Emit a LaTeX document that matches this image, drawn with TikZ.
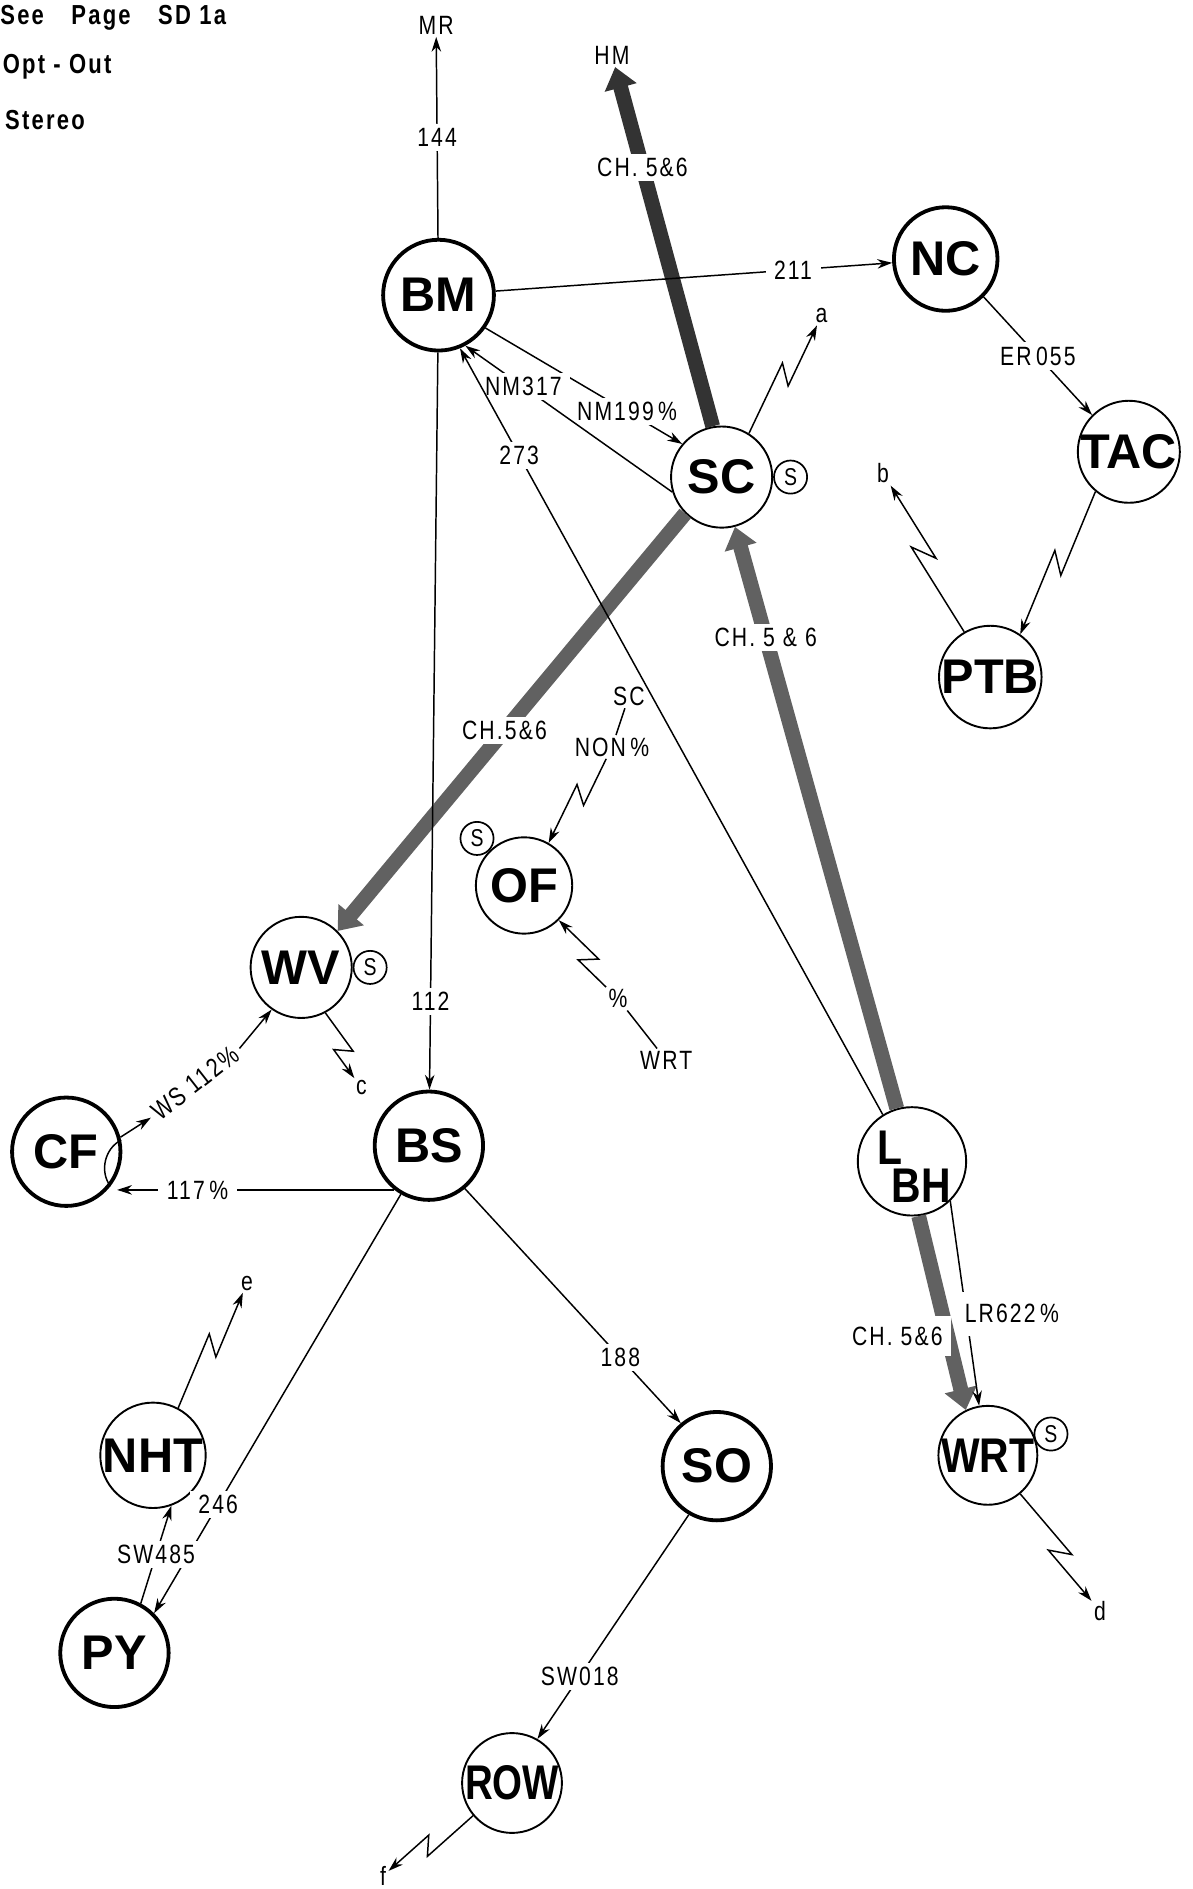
\documentclass[tikz,border=0pt]{standalone}
\usepackage{fontspec}
\setmainfont{Liberation Sans}
\newfontfamily\stnfont{Liberation Sans}
\newfontfamily\stnnarrow{Liberation Sans}[FakeStretch=0.84]
\newfontfamily\stnslim{Liberation Sans}[FakeStretch=0.79]
\newfontfamily\lblfont{Liberation Sans}[FakeStretch=0.8, LetterSpace=8]
\usetikzlibrary{calc}
\usetikzlibrary{arrows.meta}

\begin{document}
\begin{tikzpicture}[x=0.02cm, y=-0.02cm,
    stn/.style={circle, draw, line width=0.9pt, inner sep=0pt, font=\stnfont\bfseries\fontsize{23}{23}\selectfont},
    narrow/.style={font=\stnnarrow\bfseries\fontsize{23}{23}\selectfont},
    slim/.style={font=\stnslim\bfseries\fontsize{23}{23}\selectfont},
    heavy/.style={line width=1.8pt},
    rad/.style={minimum size=#1*0.04cm},
    sbox/.style={circle, draw, line width=0.8pt, minimum size=0.55cm, inner sep=0pt, font=\lblfont\fontsize{11.5}{11.5}\selectfont},
    lbl/.style={fill=white, text=black, inner xsep=4pt, inner ysep=2pt, font=\lblfont\fontsize{12.5}{14}\selectfont},
    txt/.style={inner sep=1pt, font=\lblfont\fontsize{12.5}{14}\selectfont},
    note/.style={anchor=west, inner sep=0pt, font=\lblfont\bfseries\fontsize{13}{13}\selectfont},
    lnk/.style={line width=0.7pt},
    arr/.style={line width=0.7pt, -{Stealth[length=7pt,width=4.5pt]}},
    fat/.style={line width=7pt, black!62, -{Triangle[length=10pt,width=15pt]}},
    bolt/.style={to path={-- ($(\tikztostart)!0.56!(\tikztotarget)!4pt!90:(\tikztotarget)$)
        -- ($(\tikztostart)!0.44!(\tikztotarget)!4pt!-90:(\tikztotarget)$) -- (\tikztotarget) \tikztonodes}}]
    \useasboundingbox (0,0) rectangle (990,1568);
    % notes
    \node[note] (see) at (0,15) {See\quad Page\quad SD 1a};
    \node[note] (opt) at (2,55) {Opt - Out};
    \node[note] (ster) at (4,100) {Stereo};
    % stations
    \node[stn, heavy, rad=46] (BM) at (364,245) {BM};
    \node[stn, heavy, rad=43] (NC) at (785,215) {NC};
    \node[stn, rad=42] (SC) at (599,396) {SC};
    \node[stn, rad=42] (TAC) at (937,375) {TAC};
    \node[stn, rad=41] (PTB) at (822,562) {PTB};
    \node[stn, rad=40] (OF) at (435,735) {OF};
    \node[stn, rad=42] (WV) at (250,803) {WV};
    \node[stn, heavy, rad=45] (CF) at (55,956) {CF};
    \node[stn, heavy, rad=45] (BS) at (356,951) {BS};
    \node[stn, narrow, rad=45] (LBH) at (757,964)
        {\raisebox{-12pt}[0pt][0pt]{\begin{tabular}{@{}l@{}}\hspace*{2pt}L\\[-5pt]\hspace*{9pt}BH\end{tabular}}};
    \node[stn, heavy, rad=45] (SO) at (595,1217) {SO};
    \node[stn, narrow, rad=40] (WRT) at (820,1208) {WRT};
    \node[stn, rad=41] (NHT) at (127,1208) {NHT};
    \node[stn, heavy, rad=45] (PY) at (95,1372) {PY};
    \node[stn, slim, rad=40] (ROW) at (425,1480) {ROW};
    % stereo marks
    \node[sbox, anchor=west] (SCs) at (SC.east) {S};
    \node[sbox, anchor=south east] (OFs) at (OF.135) {S};
    \node[sbox, anchor=west] (WVs) at (WV.east) {S};
    \node[sbox, anchor=west] (WRTs) at (WRT.25) {S};
    % outside ends
    \node[txt] (MR) at (362,21) {MR};
    \node[txt] (HM) at (508,46) {HM};
    \node[txt] (outa) at (682,262) {a};
    \node[txt] (outb) at (733,393) {b};
    \node[txt] (outc) at (300,903) {c};
    \node[txt] (outd) at (913,1337) {d};
    \node[txt] (oute) at (205,1065) {e};
    \node[txt] (outf) at (318,1557) {f};
    % channel 5 & 6
    \draw[fat, black!80] (SC.100) -- node[lbl, pos=.72] {CH. 5\&6} (HM);
    \draw[fat] (SC.-135) -- node[lbl, pos=.52] {CH.5\&6} (WV.45);
    \draw[fat] (LBH.106) -- node[lbl, pos=.81] {CH. 5 \& 6} (SC.-75);
    \draw[fat] (LBH.-83) -- node[lbl, pos=.62, anchor=east, xshift=5pt, inner ysep=5pt] {CH. 5\&6\hspace{18pt}} (WRT.116);
    % links
    \draw[arr] (BM) -- node[lbl] {144} (MR);
    \draw[arr] (BM) -- node[lbl, pos=.75] {211} (NC);
    \draw[arr] (NC.-45) -- node[lbl] {ER\,055} (TAC.135);
    \draw[arr] (BM.-35) -- node[lbl, pos=.72] {NM199\,\%} (SC.140);
    \draw[arr] (SC.197) -- node[lbl, pos=.72] {NM317} (BM.-62);
    \draw[arr] (LBH.122) -- node[lbl, pos=.86] {273} (BM.-68);
    \draw[arr] (BM) -- node[lbl, pos=.88] {112} (BS);
    \draw[arr] (LBH.-46) -- node[lbl, pos=.55, anchor=west, xshift=-3pt, inner xsep=2pt, inner ysep=6pt] {LR622\,\%} (WRT.100);
    \draw[arr] (BS.-128) -- node[lbl, pos=.71] {117\,\%} (BS.-128 -| CF.-25);
    \draw[arr] (BS.-120) -- node[lbl, pos=.74] {246} (PY.45);
    \draw[arr] (BS.-50) -- node[lbl, pos=.72] {188} (SO.130);
    \draw[arr] (SO.-120) -- node[lbl, pos=.72] {SW018} (ROW.60);
    \draw[arr] (PY.62) -- node[lbl] {SW485} (NHT.-70);
    % WS 112 %
    \node[lbl, rotate=38, inner xsep=2pt] (ws) at (162,899) {WS 112\%};
    \draw[arr] (CF.15) -- (ws.west);
    \draw[arr] (ws.east) -- (WV.-125);
    \draw[lnk] (CF.12) to[bend right=50] (CF.-38);
    % OF feeds
    \node[txt] (ofsc) at (522,578) {SC};
    \node[txt] (ofnon) at (508,620) {NON\,\%};
    \draw[lnk] (ofsc) -- (ofnon);
    \node[txt] (ofpct) at (513,829) {\%};
    \node[txt] (ofwrt) at (553,880) {WRT};
    \draw[lnk] (ofpct) -- (ofwrt);
    % lightning links
    \draw[arr] (SC.58) to[bolt] (outa);
    \draw[arr] (TAC.-130) to[bolt] (PTB.55);
    \draw[arr] (PTB.120) to[bolt] (outb);
    \draw[arr] (WV.-62) to[bolt] (outc);
    \draw[arr] (WRT.-50) to[bolt] (outd);
    \draw[arr] (NHT.62) to[bolt] (oute);
    \draw[arr] (ROW.-140) to[bolt] (outf);
    \draw[arr] (ofnon) to[bolt] (OF.60);
    \draw[arr] (ofpct) to[bolt] (OF.-45);
\end{tikzpicture}
\end{document}
